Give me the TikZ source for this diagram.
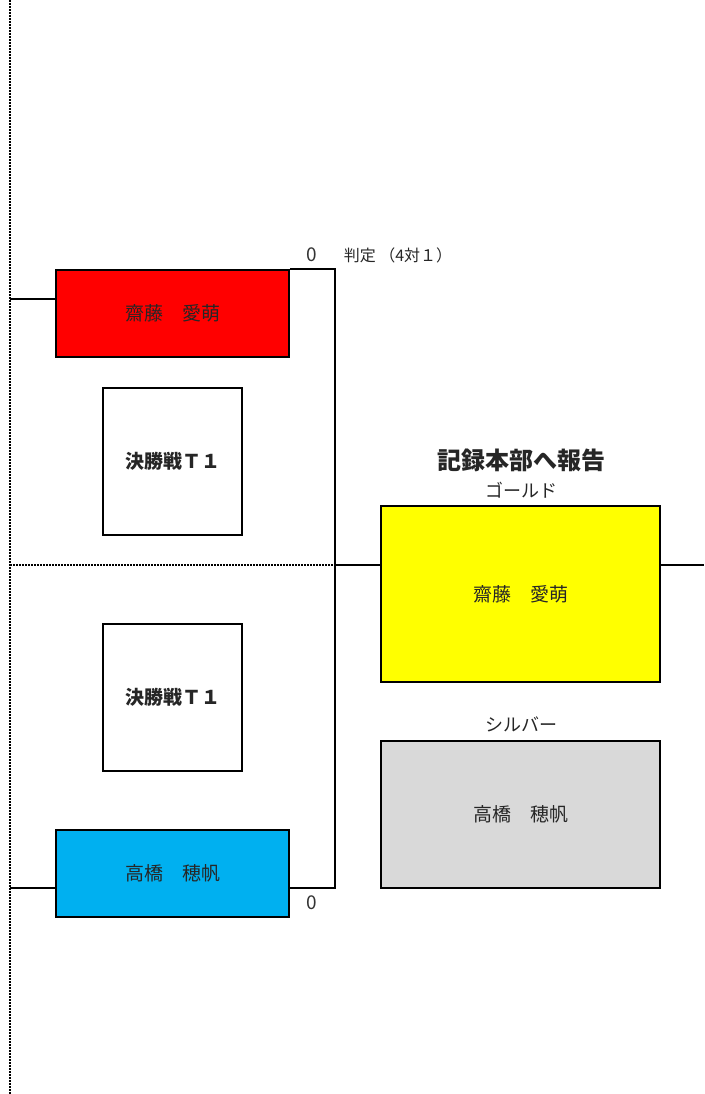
\documentclass[tikz,border=0pt]{standalone}
\usepackage{fontspec}
\setmainfont{Noto Sans CJK JP}
\usepackage{tikz}
\usetikzlibrary{positioning}
\definecolor{redbox}{RGB}{255,0,0}
\definecolor{bluebox}{RGB}{0,176,240}
\definecolor{goldbox}{RGB}{255,255,0}
\definecolor{silverbox}{RGB}{217,217,217}

\begin{document}
\begin{tikzpicture}[x=1pt, y=-1pt,
  every node/.style={inner sep=0pt, text=black!85},
  player/.style={draw=black, text=black!85, line width=1.6pt, minimum width=233pt, minimum height=87pt, font=\fontsize{19}{22}\selectfont},
  finalbox/.style={draw=black, fill=white, line width=1.6pt, minimum width=139pt, minimum height=147pt, font=\fontsize{19}{22}\selectfont\bfseries},
  medal/.style={draw=black, text=black!85, line width=1.6pt, minimum width=279pt, font=\fontsize{19}{22}\selectfont},
  score/.style={font=\fontsize{19}{22}\selectfont, text=black!80},
  wire/.style={line width=1.6pt},
  dotline/.style={line width=1.5pt, dash pattern=on 2pt off 1pt}]
\useasboundingbox (0,0) rectangle (704,1094);

\draw[dotline] (10,0) -- (10,1094);

\node[player, fill=redbox] (P1N0) at (172.5,313.5) {齋藤　愛萌};
\node[finalbox] (F1N0) at (172.5,461.5) {決勝戦Ｔ１};
\node[finalbox] (F1N1) at (172.5,697.5) {決勝戦Ｔ１};
\node[player, fill=bluebox] (P1N1) at (172.5,873.5) {高橋　穂帆};

\node[medal, fill=goldbox, minimum height=176pt] (M1N0) at (520.5,594) {齋藤　愛萌};
\node[medal, fill=silverbox, minimum height=147pt] (M1N1) at (520.5,814.5) {高橋　穂帆};

\node[font=\fontsize{24}{28}\selectfont\bfseries, text=black!85] (T1N0) at (521,460) {記録本部へ報告};
\node[font=\fontsize{18}{22}\selectfont] (T1N1) at (521,490) {ゴールド};
\node[font=\fontsize{18}{22}\selectfont] (T1N2) at (521,724) {シルバー};

\node[score] (S1N0) at (312,255) {0};
\node[font=\fontsize{16}{20}\selectfont] (S1N1) at (398,255) {判定 （4対１）};
\node[score] (S1N2) at (312,903) {0};

\coordinate (J1) at (335,565);
\coordinate (J2) at (289,888);
\coordinate (L1) at (10,299);
\coordinate (L2) at (10,888);
\coordinate (R1) at (704,565);

\draw[dotline] (10,565) -- (J1);
\draw[wire] (L1) -- (L1 -| P1N0.west);
\draw[wire] (L2) -- (L2 -| P1N1.west);
\draw[wire] (P1N0.north east) -| (J1);
\draw[wire] (J1) |- (J2);
\draw[wire] (J1) -- (J1 -| M1N0.west);
\draw[wire] (J1 -| M1N0.east) -- (R1);
\end{tikzpicture}
\end{document}
